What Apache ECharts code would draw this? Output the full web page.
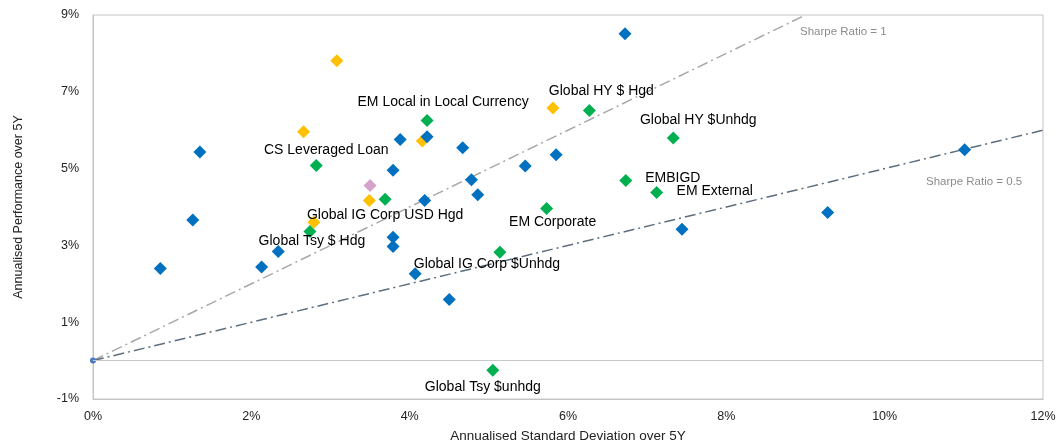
<!DOCTYPE html>
<html>
<head>
<meta charset="utf-8">
<script src="https://cdn.jsdelivr.net/npm/echarts@6/dist/echarts.min.js"></script>
<style>
html,body{margin:0;padding:0;background:#fff;}
#chart{width:1064px;height:448px;}
</style>
</head>
<body>
<div id="chart"></div>
<script>
// ---- data ----
var xTicks = [0, 2, 4, 6, 8, 10, 12];
var yTicks = [-1, 1, 3, 5, 7, 9];

var bluePoints = [
  [6.72, 8.51], [1.35, 5.43], [1.26, 3.66], [0.85, 2.40], [2.13, 2.44],
  [2.34, 2.84], [3.88, 5.76], [4.22, 5.83], [4.67, 5.54], [3.79, 4.96],
  [4.19, 4.17], [4.78, 4.71], [4.86, 4.32], [5.46, 5.07], [5.85, 5.36],
  [3.79, 3.21], [3.79, 2.97], [4.07, 2.26], [4.50, 1.59], [7.44, 3.42],
  [9.28, 3.86], [11.01, 5.49]
];
var yellowPoints = [
  [3.08, 7.81], [2.66, 5.96], [4.16, 5.72], [5.81, 6.58], [3.49, 4.17], [2.79, 3.60]
];
var pinkPoints = [[3.50, 4.56]];
var greenNames = [
  'EM Local in Local Currency', 'Global HY $ Hgd', 'Global HY $Unhdg', 'CS Leveraged Loan',
  'EMBIGD', 'EM External', 'Global IG Corp USD Hgd', 'Global Tsy $ Hdg',
  'EM Corporate', 'Global IG Corp $Unhdg', 'Global Tsy $unhdg'
];
var greenPoints = [
  [4.22, 6.25], [6.27, 6.51], [7.33, 5.80], [2.82, 5.08],
  [6.73, 4.69], [7.12, 4.38], [3.69, 4.20], [2.74, 3.36],
  [5.73, 3.96], [5.14, 2.82], [5.05, -0.25]
];
var sharpeOneLine = [[0, 0], [9, 9]];
var sharpeHalfLine = [[0, 0], [12, 6]];
var originPoint = [[0, 0]];

// ---- label placement (style only) ----
var greenLabelOffsets = {
  'EM Local in Local Currency': [16, -18],
  'Global HY $ Hgd': [12, -19],
  'Global HY $Unhdg': [25, -18],
  'CS Leveraged Loan': [10, -15],
  'EMBIGD': [47, -2],
  'EM External': [58, -1],
  'Global IG Corp USD Hgd': [0, 16],
  'Global Tsy $ Hdg': [2, 10],
  'EM Corporate': [6, 14],
  'Global IG Corp $Unhdg': [-13, 12],
  'Global Tsy $unhdg': [-10, 17]
};

var FONT = '"Liberation Sans", Arial, sans-serif';
var chart = echarts.init(document.getElementById('chart'), null, {renderer: 'canvas'});

var greenData = greenPoints.map(function (p, i) {
  return {
    name: greenNames[i],
    value: p,
    label: {offset: greenLabelOffsets[greenNames[i]]}
  };
});

function diamondSeries(name, data, color, z) {
  return {
    name: name,
    type: 'scatter',
    symbol: 'diamond',
    symbolSize: 13,
    itemStyle: {color: color, opacity: 1},
    data: data,
    z: z
  };
}

var option = {
  backgroundColor: '#ffffff',
  animation: false,
  grid: {
    left: 93, top: 15, right: 21, bottom: 48,
    show: true, borderColor: '#C4C4C4', borderWidth: 1
  },
  xAxis: {
    type: 'value', min: 0, max: 12, interval: 2,
    name: 'Annualised Standard Deviation over 5Y',
    nameLocation: 'middle', nameGap: 30,
    nameTextStyle: {fontFamily: FONT, fontSize: 13.5, color: '#222'},
    axisLine: {show: true, onZero: false, lineStyle: {color: '#C4C4C4', width: 1}},
    axisTick: {show: false},
    splitLine: {show: false},
    axisLabel: {
      formatter: '{value}%', margin: 11,
      fontFamily: FONT, fontSize: 12.5, color: '#222',
      customValues: xTicks
    }
  },
  yAxis: {
    type: 'value', min: -1, max: 9,
    name: 'Annualised Performance over 5Y',
    nameLocation: 'middle', nameGap: 68, nameRotate: 90,
    nameTextStyle: {fontFamily: FONT, fontSize: 12.5, color: '#222'},
    axisLine: {show: true, lineStyle: {color: '#C4C4C4', width: 1}},
    axisTick: {show: false},
    splitLine: {show: false},
    axisLabel: {
      formatter: '{value}%', margin: 14,
      fontFamily: FONT, fontSize: 12.5, color: '#222',
      customValues: yTicks
    }
  },
  series: [
    {
      name: 'Sharpe Ratio = 1',
      type: 'line',
      data: sharpeOneLine,
      showSymbol: false,
      silent: true,
      lineStyle: {color: '#A8A8A8', width: 1.5, type: [11, 4, 2, 4]},
      z: 1,
      markLine: {
        silent: true,
        symbol: ['none', 'none'],
        label: {show: false},
        lineStyle: {color: '#C8C8C8', width: 1, type: 'solid'},
        data: [{yAxis: 0}]
      }
    },
    {
      name: 'Sharpe Ratio = 0.5',
      type: 'line',
      data: sharpeHalfLine,
      showSymbol: false,
      silent: true,
      lineStyle: {color: '#5E6E7E', width: 1.5, type: [11, 4, 2, 4]},
      z: 1
    },
    {
      name: 'Origin',
      type: 'scatter',
      symbol: 'circle',
      symbolSize: 6,
      itemStyle: {color: '#4A78C0', opacity: 1},
      data: originPoint,
      z: 2
    },
    diamondSeries('Yellow', yellowPoints, '#FFC000', 3),
    diamondSeries('Pink', pinkPoints, '#D3A3CB', 3),
    diamondSeries('Blue', bluePoints, '#0070C0', 4),
    Object.assign(diamondSeries('Green', greenData, '#00B050', 5), {
      label: {
        show: true,
        position: 'inside',
        formatter: '{b}',
        fontFamily: FONT,
        fontSize: 14,
        color: '#000'
      }
    })
  ],
  graphic: [
    {
      type: 'text', left: 800, top: 26,
      style: {text: 'Sharpe Ratio = 1', font: '11.5px ' + FONT, fill: '#8C8C8C'}
    },
    {
      type: 'text', left: 926, top: 176,
      style: {text: 'Sharpe Ratio = 0.5', font: '11.5px ' + FONT, fill: '#8C8C8C'}
    }
  ]
};

chart.setOption(option);
</script>
</body>
</html>
